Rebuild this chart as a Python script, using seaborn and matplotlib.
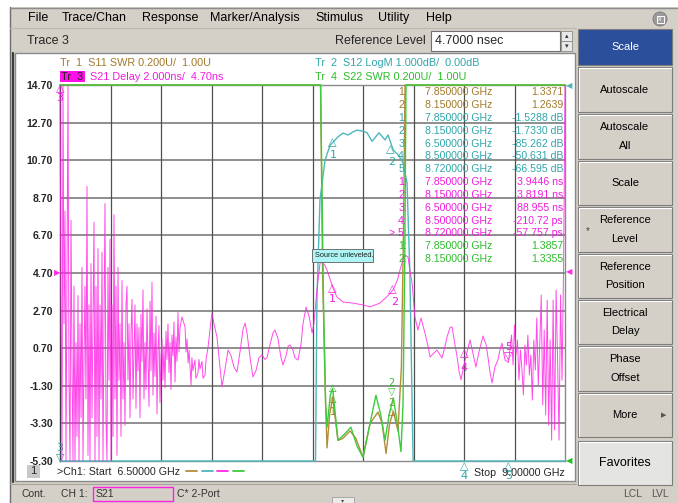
import numpy as np
import matplotlib
matplotlib.use("Agg")
import matplotlib.pyplot as plt
from matplotlib.patches import Rectangle, Circle
import seaborn as sns

# --- sweep and scale settings ---
F_START, F_STOP = 6.5, 9.0
grid_freqs = np.linspace(F_START, F_STOP, 11)

# Tr3 S21 delay, 2 ns/div, ref 4.70 ns
delay_lim = (-5.30, 14.70)
delay_ticks = [14.70, 12.70, 10.70, 8.70, 6.70, 4.70, 2.70, 0.70, -1.30, -3.30, -5.30]
delay_ticklabels = ["14.70", "12.70", "10.70", "8.70", "6.70", "4.70",
                    "2.70", "0.70", "-1.30", "-3.30", "-5.30"]

# noisy start of sweep, one value per sweep point 6.500 .. 7.094 GHz (ns)
delay_noise_lo = [16, 3, -7, 16, 2, 8, -7, 5, 15.5, -1,
                  -7, 7.5, 0, -7, 4, -6, 1, -4, 3.5, -7,
                  2, -3, 5, -7, 0, 4, -2, 9.3, -5, 3,
                  -7, 5.2, -3, 2, 7.4, -7, 4, -4, 6, -7,
                  3, -2, 5.8, -7, 2, 8.4, -3, -7, 5, -1,
                  6.5, -7, 3, -4, 7.8, -2, 4, -5, 5.0, -1,
                  2, -4, 4.3, -2, 1, -3.4, 3, 4.0, -1, 2,
                  -3, 1.5, 3.3, -2, 0.5, 3.0, -2.5, 2, -0.5, 1.8,
                  -3, 2.5, 0, 3.8, -2, 1, -1.5, 2.8, 0.2, -2.4,
                  3.2, -0.5, 4.2, -1.8, 1.5, -0.8, 2.4, -2.8, 0.6, 1.9,
                  -2.2, 0.2, 1.2, -1.0, 0.8, -1.4, 1.6, 0.1, 2.0, -0.6,
                  1.0, -1.5, 1.4, 0.3, 2.1, -1.1, 1.3, 0.0, 2.6, 0.5,
                  1.8]
delay_f_mid = [7.104, 7.119, 7.124, 7.129, 7.134, 7.139, 7.149, 7.153, 7.158, 7.168,
               7.173, 7.183, 7.188, 7.193, 7.203, 7.208, 7.218, 7.223, 7.233, 7.252,
               7.262, 7.277, 7.292, 7.302, 7.317, 7.332, 7.347, 7.361, 7.376, 7.391,
               7.406, 7.416, 7.426, 7.441, 7.455, 7.470, 7.485, 7.500, 7.515, 7.525,
               7.540, 7.554, 7.564, 7.579, 7.594, 7.604, 7.619, 7.629, 7.639, 7.653,
               7.663, 7.678, 7.693, 7.703, 7.718, 7.733, 7.748, 7.757, 7.772, 7.787,
               7.797, 7.812, 7.822, 7.850, 7.871, 7.901, 7.950, 8.000, 8.035, 8.084,
               8.124, 8.150, 8.173, 8.183, 8.198, 8.208, 8.223, 8.233, 8.243, 8.257,
               8.272, 8.287, 8.307, 8.322, 8.332, 8.347, 8.366, 8.381, 8.391, 8.406,
               8.416, 8.431, 8.441, 8.455, 8.465, 8.475, 8.485, 8.500, 8.515, 8.530,
               8.545, 8.559, 8.574, 8.594, 8.609, 8.619, 8.629, 8.639, 8.653, 8.668,
               8.678, 8.688, 8.703, 8.720]
delay_mid = [2.36, 1.83, 0.5, 1.2, -0.09, 0.6, -1.26, 0.2, -0.5, 0.07,
             -0.9, -0.62, 0.1, -0.4, 0.0, -0.9, -0.73, 0.1, 0.76, 2.57,
             2.0, 1.3, -0.3, -1.36, -0.4, 0.6, 0.3, -0.3, -0.57, 0.5,
             1.7, 2.04, 1.5, 0.2, -0.83, -0.5, 0.2, 0.34, 0.1, 0.2,
             0.9, 1.5, 1.67, 1.2, 0.2, -0.2, 0.3, 0.8, 0.87, 0.6,
             0.2, 0.07, 0.9, 2.0, 2.89, 2.4, 1.51, 2.0, 3.8, 5.2,
             5.3, 5.1, 4.86, 3.9446, 3.42, 3.16, 3.1, 3.0, 2.9, 3.1,
             3.5, 3.8191, 4.4, 4.86, 5.4, 5.66, 5.55, 4.8, 4.17, 2.36,
             1.67, 2.3, 1.5, 0.8, 0.23, 0.4, 0.6, 0.35, 0.18, 0.8,
             1.3, 1.8, 1.83, 0.9, 0.3, -0.5, -0.98, -0.2107, 0.5, 1.14,
             0.4, -0.3, 0.5, 1.35, 0.9, 0.2, -0.6, -1.15, -0.3, 0.07,
             0.6, 0.97, 0.07, -0.0578]
# noisy end of sweep, 8.728 .. 9.000 GHz (ns)
delay_noise_hi = [0.7, 1.4, -0.19, 1.93, 0.34, 1.14, -1.0, 0.6, -0.46, -1.79,
                  0.87, -0.19, 1.4, -0.73, 0.34, -2.06, 1.14, -0.46, 2.31, -1.26,
                  0.87, 3.53, -2.32, 1.67, -2.85, 3.26, -3.39, 1.14, -4.19, 3.26,
                  -3.65, 3.8, 0.07, -4.19, 3.53, -1.0, 4.7, 16]

# Tr2 S12 LogM, 1 dB/div, ref 0 dB at top
s12_lim = (-10.0, 0.0)
s12_f = [6.500, 7.765, 7.772, 7.787, 7.812, 7.837, 7.850, 7.876, 7.901, 7.926,
         7.950, 7.970, 8.000, 8.020, 8.045, 8.079, 8.109, 8.124, 8.150, 8.173,
         8.198, 8.218, 8.232, 8.248, 8.500, 8.720, 9.000]
s12_db = [-85.262, -10.5, -5.7, -3.06, -2.0, -1.6, -1.5288, -1.38, -1.28, -1.33,
          -1.25, -1.2, -1.23, -1.27, -1.5, -1.27, -1.46, -1.33, -1.7330, -1.85,
          -2.07, -2.6, -5.0, -10.5, -50.631, -66.595, -70]

# Tr1 S11 / Tr4 S22 SWR, 0.2 U/div, ref 1.00 at bottom
swr_lim = (1.0, 3.0)
s11_f = [6.50, 7.790, 7.800, 7.815, 7.822, 7.835, 7.850, 7.876, 7.900, 7.936,
         7.965, 8.000, 8.035, 8.074, 8.095, 8.114, 8.132, 8.150, 8.173, 8.190,
         8.200, 8.208, 9.00]
s11_swr = [20, 3.2, 2.0, 1.3, 1.07, 1.25, 1.3371, 1.11, 1.12, 1.16,
           1.12, 1.02, 1.2, 1.26, 1.2, 1.04, 1.2, 1.2639, 1.16, 1.5,
           2.2, 3.2, 20]
s22_f = [6.50, 7.790, 7.805, 7.815, 7.822, 7.838, 7.850, 7.876, 7.906, 7.940,
         7.970, 8.000, 8.035, 8.064, 8.087, 8.109, 8.130, 8.150, 8.170, 8.188,
         8.198, 8.206, 8.213, 9.00]
s22_swr = [20, 3.2, 1.8, 1.3, 1.18, 1.35, 1.3857, 1.11, 1.14, 1.18,
           1.08, 1.02, 1.2, 1.35, 1.25, 1.11, 1.25, 1.3355, 1.2, 1.05,
           1.3, 2.0, 3.2, 20]

# marker readout table
marker_rows = [
    ("1:", "7.850000 GHz", "1.3371", "tr1"),
    ("2:", "8.150000 GHz", "1.2639", "tr1"),
    ("1:", "7.850000 GHz", "-1.5288 dB", "tr2"),
    ("2:", "8.150000 GHz", "-1.7330 dB", "tr2"),
    ("3:", "6.500000 GHz", "-85.262 dB", "tr2"),
    ("4:", "8.500000 GHz", "-50.631 dB", "tr2"),
    ("5:", "8.720000 GHz", "-66.595 dB", "tr2"),
    ("1:", "7.850000 GHz", "3.9446 ns", "tr3"),
    ("2:", "8.150000 GHz", "3.8191 ns", "tr3"),
    ("3:", "6.500000 GHz", "88.955 ns", "tr3"),
    ("4:", "8.500000 GHz", "-210.72 ps", "tr3"),
    ("> 5:", "8.720000 GHz", "-57.757 ps", "tr3"),
    ("1:", "7.850000 GHz", "1.3857", "tr4"),
    ("2:", "8.150000 GHz", "1.3355", "tr4"),
]

menu_items = [("File", 28), ("Trace/Chan", 62), ("Response", 142),
              ("Marker/Analysis", 210), ("Stimulus", 315), ("Utility", 378), ("Help", 426)]
buttons = [(["Scale"], 29, 66), (["Autoscale"], 67, 113), (["Autoscale", "All"], 114, 160),
           (["Scale"], 161, 206), (["Reference", "Level"], 207, 253),
           (["Reference", "Position"], 254, 299), (["Electrical", "Delay"], 300, 345),
           (["Phase", "Offset"], 346, 392), (["More"], 393, 438), (["Favorites"], 441, 486)]

LINE = {"tr1": "#b38c3c", "tr2": "#4cb8bc", "tr3": "#ff2ae6", "tr4": "#3ccc3c"}
TEXT = {"tr1": "#a27a28", "tr2": "#2ea6aa", "tr3": "#f21ce0", "tr4": "#2cbc2c"}
GRAY = "#d4d0c8"
W, H = 678, 503

sns.set_style("white")
plt.rcParams["font.family"] = ["Liberation Sans", "DejaVu Sans"]

fig = plt.figure(figsize=(W / 100, H / 100), dpi=100)
fig.patch.set_facecolor("white")
bg = fig.add_axes([0, 0, 1, 1], label="bg", zorder=0)
fg = fig.add_axes([0, 0, 1, 1], label="fg", zorder=10)
for a in (bg, fg):
    a.set_xlim(0, W)
    a.set_ylim(H, 0)
    a.axis("off")

# ---- window chrome ----
bg.add_patch(Rectangle((10, 7), W - 10, H - 7, fc=GRAY, ec="none"))
bg.plot([10, 10], [7, H], color="#6c6c6c", lw=1)
bg.plot([10, W], [7.5, 7.5], color="#8c8c8c", lw=1)
for name, x in menu_items:
    bg.text(x, 18, name, fontsize=9, va="center", ha="left", color="black")
bg.add_patch(Circle((660, 19), 7, fc="#9a9a9a", ec="#7a7a7a", lw=0.6))
bg.add_patch(Rectangle((656.5, 15.5), 7, 7, fc="none", ec="white", lw=0.7))
bg.text(660, 19, "x", fontsize=5, color="white", ha="center", va="center")
bg.plot([10, 576], [27.5, 27.5], color="#bcb8b0", lw=0.8)

bg.text(27, 41, "Trace 3", fontsize=9, va="center")
bg.text(426, 41, "Reference Level", fontsize=9, va="center", ha="right")
bg.add_patch(Rectangle((431, 31), 129, 20, fc="white", ec="#707070", lw=0.8))
bg.text(435, 41, "4.7000 nsec", fontsize=9, va="center")
bg.add_patch(Rectangle((561, 31), 11, 10, fc="#e8e8e8", ec="#8a8a8a", lw=0.6))
bg.add_patch(Rectangle((561, 41), 11, 10, fc="#e8e8e8", ec="#8a8a8a", lw=0.6))
bg.text(566.5, 36, "▴", fontsize=5, ha="center", va="center", color="#333333",
        family=["DejaVu Sans"])
bg.text(566.5, 46, "▾", fontsize=5, ha="center", va="center", color="#333333",
        family=["DejaVu Sans"])

# chart panel
bg.add_patch(Rectangle((15, 53), 560, 428, fc="white", ec="#8a8a8a", lw=1))
bg.plot([13, 13], [53, 482], color="#3c3c3c", lw=1.6)

# softkey buttons
for i, (lines, y0, y1) in enumerate(buttons):
    face, tc = GRAY, "black"
    if i == 0:
        face, tc = "#2c4f9b", "white"
    if lines[0] == "Favorites":
        face = "#e4e4e2"
    bg.add_patch(Rectangle((578, y0), 94, y1 - y0 - 1, fc=face, ec="#7c7c7c", lw=0.8))
    if i != 0:
        bg.plot([579.5, 670.5], [y0 + 1.2, y0 + 1.2], color="white", lw=0.8)
        bg.plot([579.2, 579.2], [y0 + 1.2, y1 - 2], color="white", lw=0.8)
    mid = (y0 + y1) / 2 - 0.5
    fs = 9 if lines[0] == "Favorites" else 8
    if len(lines) == 1:
        bg.text(625, mid, lines[0], fontsize=fs, color=tc, ha="center", va="center")
    else:
        bg.text(625, mid - 9.5, lines[0], fontsize=fs, color=tc, ha="center", va="center")
        bg.text(625, mid + 9.5, lines[1], fontsize=fs, color=tc, ha="center", va="center")
bg.text(588, 231, "*", fontsize=7, ha="center", va="center", color="#444444")
bg.text(664, 415, "▶", fontsize=5, ha="center", va="center", color="#555555",
        family=["DejaVu Sans"])

# status bar
bg.plot([10, 576], [484, 484], color="#a8a49c", lw=0.8)
bg.text(22, 494, "Cont.", fontsize=7.5, va="center", color="#333333")
bg.text(61, 494, "CH 1:", fontsize=7.5, va="center", color="#333333")
bg.add_patch(Rectangle((93, 487), 80, 14, fc="none", ec="#ff20e0", lw=1))
bg.text(96, 494, "S21", fontsize=7.5, va="center", color="#333333")
bg.text(177, 494, "C* 2-Port", fontsize=7.5, va="center", color="#333333")
bg.add_patch(Rectangle((332, 497), 22, 8, fc="#ecebe8", ec="#a0a0a0", lw=0.6))
bg.text(343, 500.5, "▾", fontsize=4.5, ha="center", va="center", color="#555555",
        family=["DejaVu Sans"])
bg.text(623, 494, "LCL", fontsize=7.5, va="center", color="#555555")
bg.text(651, 494, "LVL", fontsize=7.5, va="center", color="#555555")

# ---- measurement grid (Tr3 scale is the active one) ----
ax = fig.add_axes([60 / W, (H - 461) / H, 505 / W, 376 / H], zorder=2)
ax.set_facecolor("white")
ax.set_xlim(F_START, F_STOP)
ax.set_ylim(*delay_lim)
ax.set_xticks(grid_freqs)
ax.set_xticklabels([])
ax.set_yticks(delay_ticks)
ax.set_yticklabels(delay_ticklabels, fontsize=7.6, fontweight="bold")
ax.tick_params(axis="both", length=0)
ax.tick_params(axis="y", pad=5)
ax.grid(False)
for yv in delay_ticks[1:-1]:
    ax.axhline(yv, color="#8e8e8e", lw=1.4, zorder=0.5)
for fv in grid_freqs[1:-1]:
    ax.axvline(fv, color="#505050", lw=0.9, zorder=0.6)
for side, sp in ax.spines.items():
    sp.set_color("#3c3c3c" if side == "left" else "#8a8a8a")
    sp.set_linewidth(1.0)


def twin(z):
    t = ax.twinx()
    t.set_zorder(z)
    t.patch.set_visible(False)
    t.axis("off")
    return t


def trace(axx, f, v, lim, color, lw=1.0, alpha=1.0):
    sns.lineplot(x=np.asarray(f, float), y=np.clip(np.asarray(v, float), *lim), ax=axx,
                 color=color, linewidth=lw, alpha=alpha, estimator=None, sort=False,
                 legend=False)
    axx.lines[-1].set_clip_on(False)
    axx.set_xlim(F_START, F_STOP)
    axx.set_ylim(*lim)


def mark(axx, f, v, txt, color, dx=0, dy=0, fs=8):
    # dx, dy in pixels (dy positive = downward)
    axx.annotate(txt, (f, v), xytext=(dx * 0.72, -dy * 0.72), textcoords="offset points",
                 color=color, fontsize=fs, ha="center", va="center",
                 annotation_clip=False, family=["DejaVu Sans"], zorder=8)


t1 = twin(3)
t2 = twin(4)
t3 = twin(5)
t4 = twin(6)

trace(t1, s11_f, s11_swr, swr_lim, LINE["tr1"], lw=1.0)
trace(t2, s12_f, s12_db, s12_lim, LINE["tr2"], lw=1.0)

f_lo = np.linspace(F_START, 7.094, len(delay_noise_lo))
f_hi = np.linspace(8.728, F_STOP, len(delay_noise_hi))
delay_f = np.concatenate([f_lo, delay_f_mid, f_hi])
delay_v = np.concatenate([delay_noise_lo, delay_mid, delay_noise_hi])
trace(t3, delay_f, delay_v, delay_lim, LINE["tr3"], lw=0.7, alpha=0.85)
trace(t4, s22_f, s22_swr, swr_lim, LINE["tr4"], lw=1.0)

# ---- markers ----
m = TEXT["tr3"]
mark(t3, 7.85, 3.9446, "△", m, 0, 1)
mark(t3, 7.85, 3.9446, "1", m, 0, 12)
mark(t3, 8.15, 3.8191, "△", m, -1, 0)
mark(t3, 8.15, 3.8191, "2", m, 1, 12)
mark(t3, 6.5, 14.7, "△", m, 0, 3)
mark(t3, 6.5, 14.7, "3", m, 0, 13)
mark(t3, 8.5, -0.2107, "△", m, 0, -12)
mark(t3, 8.5, -0.2107, "4", m, 0, 3)
mark(t3, 8.72, -0.0578, "▽", m, 0, -7)
mark(t3, 8.72, -0.0578, "5", m, 0, -15)

c = TEXT["tr2"]
mark(t2, 7.85, -1.5288, "△", c, 0, 0)
mark(t2, 7.85, -1.5288, "1", c, 1, 13)
mark(t2, 8.15, -1.733, "△", c, -3, -1)
mark(t2, 8.15, -1.733, "2", c, -2, 12)
mark(t2, 6.5, -10, "▽", c, 0, -4)
mark(t2, 6.5, -10, "3", c, 0, -13)
mark(t2, 8.5, -10, "△", c, 0, 5)
mark(t2, 8.5, -10, "4", c, 0, 15)
mark(t2, 8.72, -10, "△", c, 0, 5)
mark(t2, 8.72, -10, "5", c, 0, 15)

b = TEXT["tr1"]
mark(t1, 7.85, 1.3371, "△", b, 0, 1, fs=7)
mark(t1, 7.85, 1.3371, "1", b, 0, 14, fs=7)
mark(t1, 8.15, 1.2639, "△", b, -2, 1, fs=7)
mark(t1, 8.15, 1.2639, "2", b, -2, -8, fs=7)
g = TEXT["tr4"]
mark(t4, 7.85, 1.3857, "△", g, 0, 0, fs=7)
mark(t4, 8.15, 1.3355, "▽", g, -2, -6, fs=7)
mark(t4, 8.15, 1.3355, "2", g, -2, -15, fs=7)

# reference level pointers
fg.text(57, 273, "▶", fontsize=6, color=LINE["tr3"], ha="center", va="center",
        family=["DejaVu Sans"])
fg.text(569, 272, "◀", fontsize=6, color=LINE["tr3"], ha="center", va="center",
        family=["DejaVu Sans"])
fg.text(569, 86, "◀", fontsize=6, color=LINE["tr2"], ha="center", va="center",
        family=["DejaVu Sans"])
fg.text(569, 461, "◀", fontsize=6, color="#20c020", ha="center", va="center",
        family=["DejaVu Sans"])

# ---- trace header lines ----
fg.text(60, 63, "Tr  1  S11 SWR 0.200U/  1.00U", fontsize=7.8, color=TEXT["tr1"], va="center")
fg.text(315, 63, "Tr  2  S12 LogM 1.000dB/  0.00dB", fontsize=7.8, color=TEXT["tr2"], va="center")
fg.add_patch(Rectangle((59.5, 71), 25, 11, fc="#ff10e8", ec="none"))
fg.text(61, 76.5, "Tr  3", fontsize=7.8, color="#222222", va="center")
fg.text(90, 76.5, "S21 Delay 2.000ns/  4.70ns", fontsize=7.8, color=TEXT["tr3"], va="center")
fg.text(315, 76.5, "Tr  4  S22 SWR 0.200U/  1.00U", fontsize=7.8, color=TEXT["tr4"], va="center")

# ---- marker table ----
for i, (lab, freq, val, tr) in enumerate(marker_rows):
    y = 92.3 + i * 12.82
    col = TEXT[tr]
    fg.text(407, y, lab, fontsize=7.6, color=col, ha="right", va="center")
    fg.text(425, y, freq, fontsize=7.6, color=col, ha="left", va="center")
    fg.text(563, y, val, fontsize=7.6, color=col, ha="right", va="center")

# source unleveled tag
fg.add_patch(Rectangle((312, 249), 61, 13, fc="#aef6f6", ec="#707070", lw=0.7))
fg.text(315, 255.5, "Source unleveled.", fontsize=5.3, color="#202020", va="center")

# ---- channel footer ----
fg.add_patch(Rectangle((27, 465), 13, 13, fc="#c8c8c8", ec="none"))
fg.text(33.5, 471.5, "1", fontsize=8, ha="center", va="center")
fg.text(57, 472, ">Ch1: Start  6.50000 GHz", fontsize=7.7, va="center")
for k, tr in enumerate(["tr1", "tr2", "tr3", "tr4"]):
    x0 = 186 + k * 15.5
    fg.plot([x0, x0 + 11], [471, 471], color=LINE[tr], lw=1.3)
fg.text(565, 473, "Stop  9.00000 GHz", fontsize=7.7, va="center", ha="right")

fig.savefig("out.png", dpi=100, facecolor=fig.get_facecolor())
